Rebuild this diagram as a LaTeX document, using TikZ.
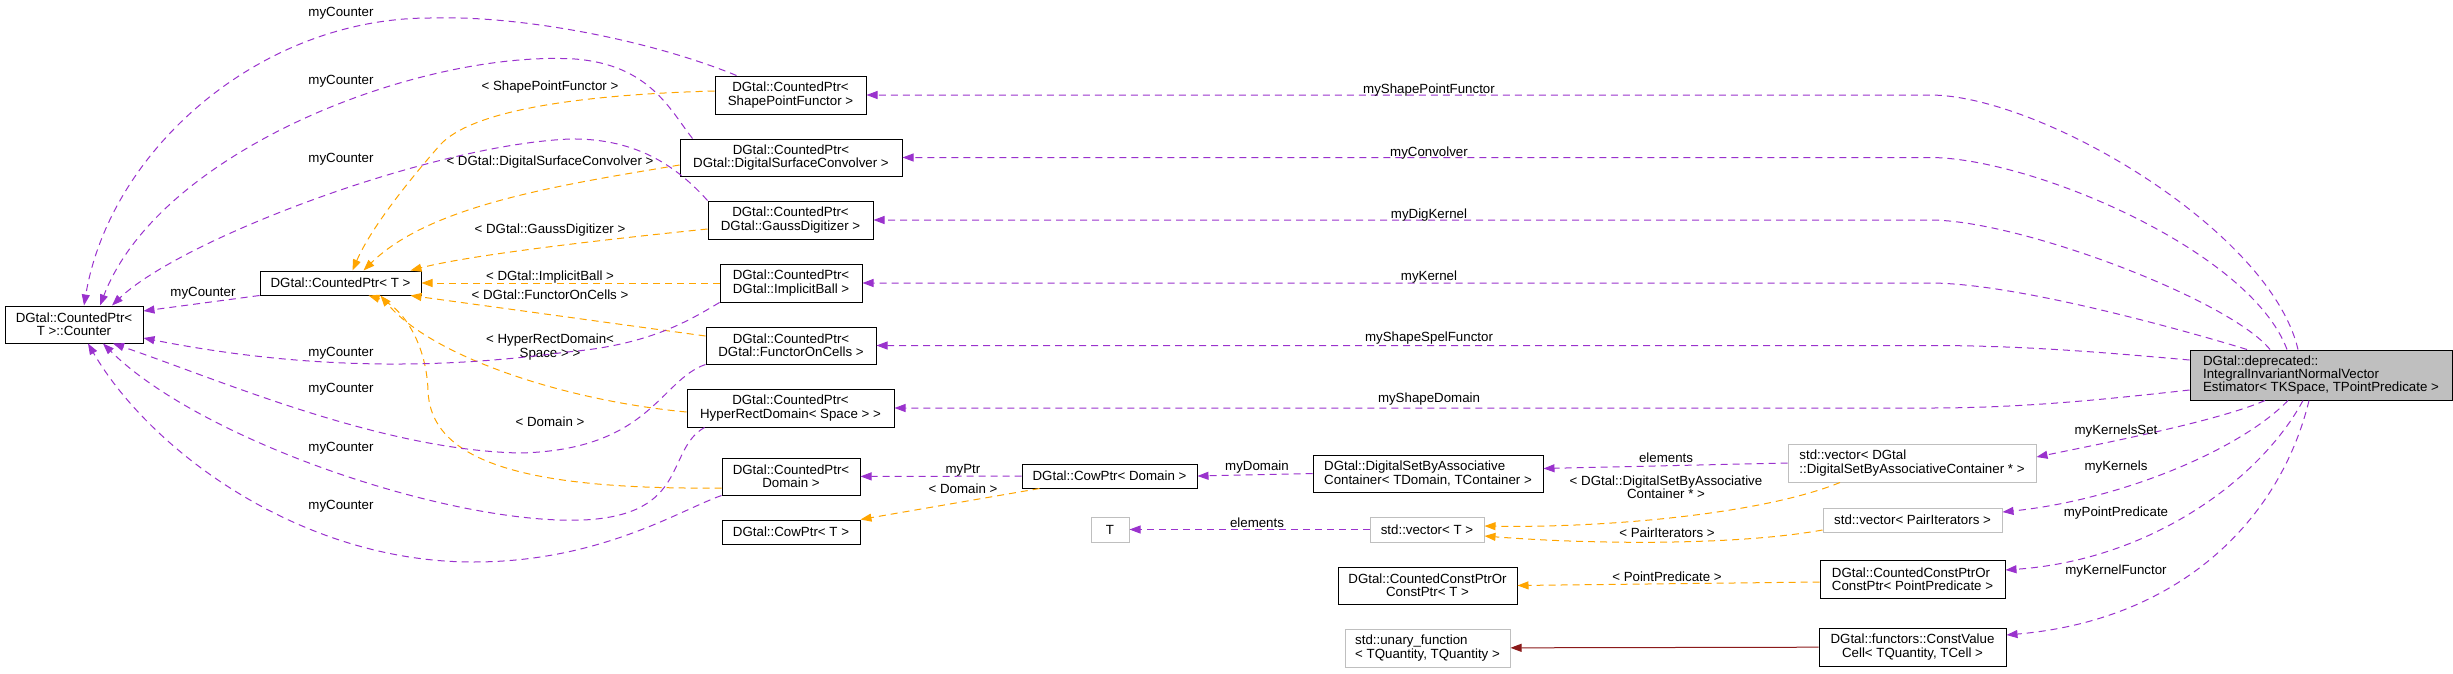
\documentclass[tikz,border=0pt]{standalone}
\usepackage{fontspec}
\setmainfont{Liberation Sans}
\usetikzlibrary{arrows.meta}
\definecolor{usecol}{HTML}{9A32CD}
\definecolor{tplcol}{HTML}{FFA500}
\definecolor{inhcol}{HTML}{8B1A1A}
\definecolor{boxgray}{HTML}{BFBFBF}
\begin{document}
\begin{tikzpicture}[x=1pt,y=-1pt,
  font=\fontsize{13.3}{13.3}\selectfont,
  cls/.style={draw=black,line width=1pt,inner sep=0pt,align=center},
  ext/.style={cls,draw=boxgray},
  usage/.style={usecol,dash pattern=on 7pt off 5pt,line width=1pt,-{Triangle[length=11pt,width=8pt]}},
  tpl/.style={usage,tplcol},
  inh/.style={inhcol,line width=1pt,-{Triangle[length=11pt,width=8pt]}},
  lbl/.style={inner sep=0pt,align=center,text=black}]
\useasboundingbox (0,0) rectangle (2453,673);
% classes
\node[cls,minimum width=138pt,minimum height=37pt] (cnt) at (74,324.5) {DGtal::CountedPtr<\\T >::Counter};
\node[cls,minimum width=161pt,minimum height=24pt] (cptr) at (340.5,283) {DGtal::CountedPtr< T >};
\node[cls,minimum width=151pt,minimum height=38pt] (spf) at (790.5,95) {DGtal::CountedPtr<\\ ShapePointFunctor >};
\node[cls,minimum width=222pt,minimum height=37pt] (conv) at (791,157.5) {DGtal::CountedPtr<\\ DGtal::DigitalSurfaceConvolver >};
\node[cls,minimum width=165pt,minimum height=38pt] (gauss) at (790.5,220) {DGtal::CountedPtr<\\ DGtal::GaussDigitizer >};
\node[cls,minimum width=142pt,minimum height=38pt] (ball) at (791,283) {DGtal::CountedPtr<\\ DGtal::ImplicitBall >};
\node[cls,minimum width=170pt,minimum height=37pt] (foc) at (791,345.5) {DGtal::CountedPtr<\\ DGtal::FunctorOnCells >};
\node[cls,minimum width=207pt,minimum height=38pt] (hrd) at (790.5,408) {DGtal::CountedPtr<\\ HyperRectDomain< Space > >};
\node[cls,minimum width=138pt,minimum height=37pt] (cpdom) at (791,476.5) {DGtal::CountedPtr<\\ Domain >};
\node[cls,minimum width=138pt,minimum height=24pt] (cowT) at (791,532) {DGtal::CowPtr< T >};
\node[cls,minimum width=175pt,minimum height=24pt] (cowdom) at (1109.5,476) {DGtal::CowPtr< Domain >};
\node[cls,align=left,minimum width=230pt,minimum height=37pt] (dsac) at (1428,473.5) {DGtal::DigitalSetByAssociative\\Container< TDomain, TContainer >};
\node[ext,minimum width=38pt,minimum height=25pt] (tT) at (1110,529.5) {T};
\node[ext,minimum width=114pt,minimum height=25pt] (vecT) at (1427,529.5) {std::vector< T >};
\node[cls,minimum width=179pt,minimum height=37pt] (ccpT) at (1427.5,585.5) {DGtal::CountedConstPtrOr\\ConstPtr< T >};
\node[ext,align=left,minimum width=165pt,minimum height=38pt] (unary) at (1427.5,648) {std::unary\_function\\< TQuantity, TQuantity >};
\node[ext,align=left,minimum width=248pt,minimum height=38pt] (vecset) at (1912,463) {std::vector< DGtal\\::DigitalSetByAssociativeContainer * >};
\node[ext,minimum width=179pt,minimum height=24pt] (vecpair) at (1912.5,520) {std::vector< PairIterators >};
\node[cls,align=left,minimum width=185pt,minimum height=38pt] (ccpPP) at (1912.5,579) {DGtal::CountedConstPtrOr\\ConstPtr< PointPredicate >};
\node[cls,minimum width=187pt,minimum height=38pt] (cvc) at (1912.5,647) {DGtal::functors::ConstValue\\Cell< TQuantity, TCell >};
\node[cls,align=left,fill=boxgray,minimum width=262pt,minimum height=50pt] (main) at (2321,375) {DGtal::deprecated::\\IntegralInvariantNormalVector\\Estimator< TKSpace, TPointPredicate >};
% members of the estimator
\draw[usage] ([xshift=-23pt]main.north) .. controls (2270,230) and (2040,95) .. (1930,95) -- (spf.east) node[lbl] at (1429,90) {myShapePointFunctor};
\draw[usage] ([xshift=-34pt]main.north) .. controls (2250,250) and (2030,157.5) .. (1930,157.5) -- (conv.east) node[lbl] at (1429,153) {myConvolver};
\draw[usage] ([xshift=-51pt]main.north) .. controls (2230,300) and (2020,220) .. (1930,220) -- (gauss.east) node[lbl] at (1429,215) {myDigKernel};
\draw[usage] ([xshift=-74pt]main.north) .. controls (2200,335) and (2020,283) .. (1930,283) -- (ball.east) node[lbl] at (1429,277) {myKernel};
\draw[usage] ([yshift=15pt]main.west) .. controls (2100,352) and (2020,345.5) .. (1930,345.5) -- (foc.east) node[lbl] at (1429,338) {myShapeSpelFunctor};
\draw[usage] ([yshift=-15pt]main.west) .. controls (2100,400) and (2020,408) .. (1930,408) -- (hrd.east) node[lbl] at (1429,399) {myShapeDomain};
\draw[usage] ([xshift=-56pt]main.south) .. controls (2220,420) and (2120,440) .. ([yshift=6pt]vecset.east) node[lbl] at (2116,431) {myKernelsSet};
\draw[usage] ([xshift=-33pt]main.south) .. controls (2240,450) and (2120,500) .. ([yshift=8pt]vecpair.east) node[lbl] at (2116,467) {myKernels};
\draw[usage] ([xshift=-18pt]main.south) .. controls (2260,480) and (2150,560) .. ([yshift=9pt]ccpPP.east) node[lbl] at (2116,513) {myPointPredicate};
\draw[usage] ([xshift=-12pt]main.south) .. controls (2280,520) and (2180,620) .. ([yshift=12pt]cvc.east) node[lbl] at (2116,571) {myKernelFunctor};
% lower classes
\draw[usage] (vecset.west) -- ([yshift=5pt]dsac.east) node[lbl] at (1666,458) {elements};
\draw[usage] (dsac.west) -- (cowdom.east) node[lbl] at (1257,467) {myDomain};
\draw[usage] (vecT) -- (tT) node[lbl] at (1257,523) {elements};
\draw[usage] (cowdom) -- (cpdom) node[lbl] at (963,470) {myPtr};
\draw[tpl] ([xshift=18pt]cowdom.south west) -- (cowT.north east) node[lbl] at (963,489) {< Domain >};
\draw[tpl] ([xshift=-72pt]vecset.south) .. controls (1760,515) and (1600,528) .. ([yshift=3.5pt]vecT.east) node[lbl] at (1666,487) {< DGtal::DigitalSetByAssociative\\Container * >};
\draw[tpl] ([yshift=-10pt]vecpair.west) .. controls (1740,545) and (1600,545) .. ([yshift=-6.5pt]vecT.east) node[lbl] at (1667,533) {< PairIterators >};
\draw[tpl] ([yshift=-3pt]ccpPP.west) -- (ccpT.east) node[lbl] at (1667,577) {< PointPredicate >};
\draw[inh] (cvc) -- (unary);
% template instances of CountedPtr
\draw[tpl] ([yshift=4pt]spf.west) .. controls (570,95) and (470,112) .. (440,145) .. controls (405,185) and (370,230) .. ([xshift=12pt]cptr.north) node[lbl] at (550,87) {< ShapePointFunctor >};
\draw[tpl] ([yshift=-7.5pt]conv.west) .. controls (560,185) and (430,205) .. ([xshift=23pt]cptr.north) node[lbl] at (550,162) {< DGtal::DigitalSurfaceConvolver >};
\draw[tpl] ([yshift=-9pt]gauss.west) .. controls (600,240) and (470,255) .. ([xshift=-11pt]cptr.north east) node[lbl] at (550,230) {< DGtal::GaussDigitizer >};
\draw[tpl] (ball) -- (cptr) node[lbl] at (550,277) {< DGtal::ImplicitBall >};
\draw[tpl] ([yshift=9.5pt]foc.west) -- ([xshift=-11pt]cptr.south east) node[lbl] at (550,295) {< DGtal::FunctorOnCells >};
\draw[tpl] ([yshift=-4pt]hrd.west) .. controls (560,400) and (430,355) .. ([xshift=40pt]cptr.south) node[lbl] at (550,347) {< HyperRectDomain<\\Space > >};
\draw[tpl] ([yshift=-11.5pt]cpdom.west) .. controls (520,490) and (430,460) .. (428,390) .. controls (426,340) and (400,305) .. ([xshift=28pt]cptr.south) node[lbl] at (550,422) {< Domain >};
% counters
\draw[usage] ([xshift=22pt]spf.north west) .. controls (650,40) and (520,15) .. (430,18) .. controls (260,18) and (110,150) .. ([xshift=10pt]cnt.north) node[lbl] at (341,13) {myCounter};
\draw[usage] ([xshift=13pt]conv.north west) .. controls (670,110) and (650,65) .. (575,59) .. controls (420,50) and (160,150) .. ([xshift=26pt]cnt.north) node[lbl] at (341,81) {myCounter};
\draw[usage] (gauss.north west) .. controls (680,170) and (640,138) .. (570,139) .. controls (430,145) and (180,240) .. ([xshift=38pt]cnt.north) node[lbl] at (341,159) {myCounter};
\draw[usage] (cptr.south west) -- (cnt.11) node[lbl] at (203,293) {myCounter};
\draw[usage] (ball.south west) .. controls (690,320) and (650,345) .. (567,352) .. controls (470,365) and (330,375) .. (cnt.-11) node[lbl] at (341,353) {myCounter};
\draw[usage] (foc.south west) .. controls (660,380) and (650,450) .. (520,453) .. controls (380,450) and (220,380) .. ([xshift=39pt]cnt.south) node[lbl] at (341,389) {myCounter};
\draw[usage] ([xshift=18pt]hrd.south west) .. controls (665,450) and (690,515) .. (583,520) .. controls (450,525) and (200,440) .. ([xshift=29pt]cnt.south) node[lbl] at (341,448) {myCounter};
\draw[usage] (cpdom.south west) .. controls (680,510) and (600,562) .. (473,562) .. controls (300,562) and (150,450) .. ([xshift=14pt]cnt.south) node[lbl] at (341,506) {myCounter};
\end{tikzpicture}
\end{document}
